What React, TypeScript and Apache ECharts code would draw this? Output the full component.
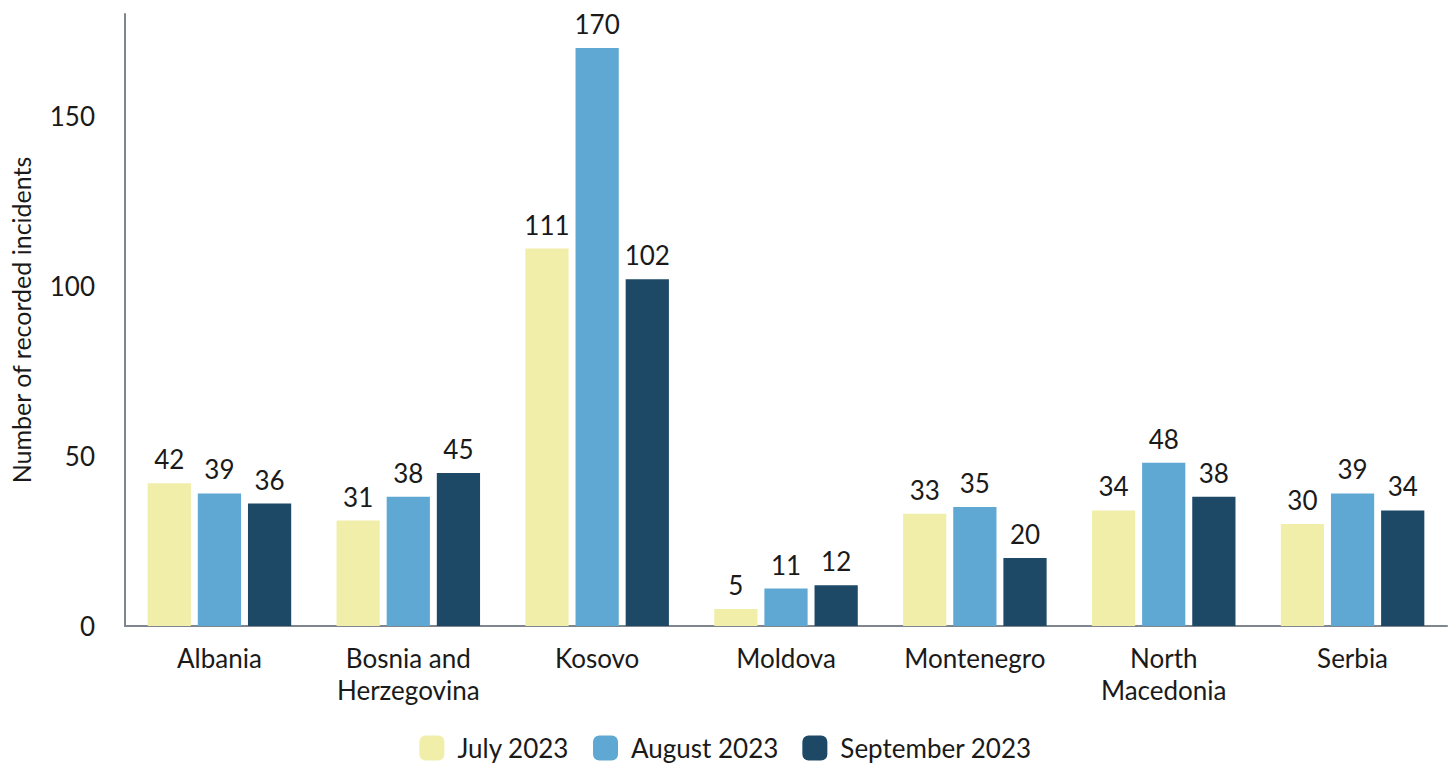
import React, { useEffect, useRef } from "react";
import * as echarts from "echarts";

const categories = ["Albania", "Bosnia and\nHerzegovina", "Kosovo", "Moldova", "Montenegro", "North\nMacedonia", "Serbia"];
const july2023 = [42, 31, 111, 5, 33, 34, 30];
const august2023 = [39, 38, 170, 11, 35, 48, 39];
const september2023 = [36, 45, 102, 12, 20, 38, 34];
const seriesNames = ["July 2023", "August 2023", "September 2023"];
const colors = ["#f1eeaa", "#60a8d4", "#1d4866"];

export default function App() {
  const ref = useRef<HTMLDivElement>(null);
  useEffect(() => {
    document.body.style.margin = "0";
    const chart = echarts.init(ref.current!, null, { renderer: "svg" });
    const font = "Lato, 'Noto Sans', sans-serif";
    const mk = (name: string, data: number[], color: string) => ({
      name,
      type: "bar",
      data,
      barGap: "16%",
      barCategoryGap: "24%",
      itemStyle: { color },
      label: {
        show: true,
        position: "top",
        distance: 11,
        color: "#1a1a1a",
        fontSize: 26,
        fontFamily: font,
      },
    });
    chart.setOption({
      animation: false,
      textStyle: { fontFamily: font },
      grid: { left: 123, right: 4, top: 14, bottom: 141, containLabel: false },
      legend: {
        bottom: 1,
        left: "center",
        itemWidth: 25,
        itemHeight: 25,
        itemGap: 24,
        icon: "roundRect",
        textStyle: { fontSize: 26, color: "#1a1a1a", fontFamily: font, padding: [0, 0, 0, 8] },
        data: seriesNames,
      },
      xAxis: {
        type: "category",
        data: categories,
        axisLine: { lineStyle: { color: "#7f868e", width: 2 } },
        axisTick: { show: false },
        axisLabel: { fontSize: 26, color: "#1a1a1a", margin: 16, lineHeight: 32, fontFamily: font },
      },
      yAxis: {
        type: "value",
        min: 0,
        max: 180,
        interval: 50,
        name: "Number of recorded incidents",
        nameLocation: "middle",
        nameGap: 92,
        nameTextStyle: { fontSize: 25, color: "#1a1a1a", fontFamily: font },
        axisLine: { show: true, lineStyle: { color: "#7f868e", width: 2 } },
        axisTick: { show: false },
        splitLine: { show: false },
        axisLabel: { fontSize: 26, color: "#1a1a1a", margin: 30, showMaxLabel: false, fontFamily: font },
      },
      series: [
        mk(seriesNames[0], july2023, colors[0]),
        mk(seriesNames[1], august2023, colors[1]),
        mk(seriesNames[2], september2023, colors[2]),
      ],
    });
    return () => chart.dispose();
  }, []);
  return <div ref={ref} style={{ width: 1451, height: 767 }} />;
}
